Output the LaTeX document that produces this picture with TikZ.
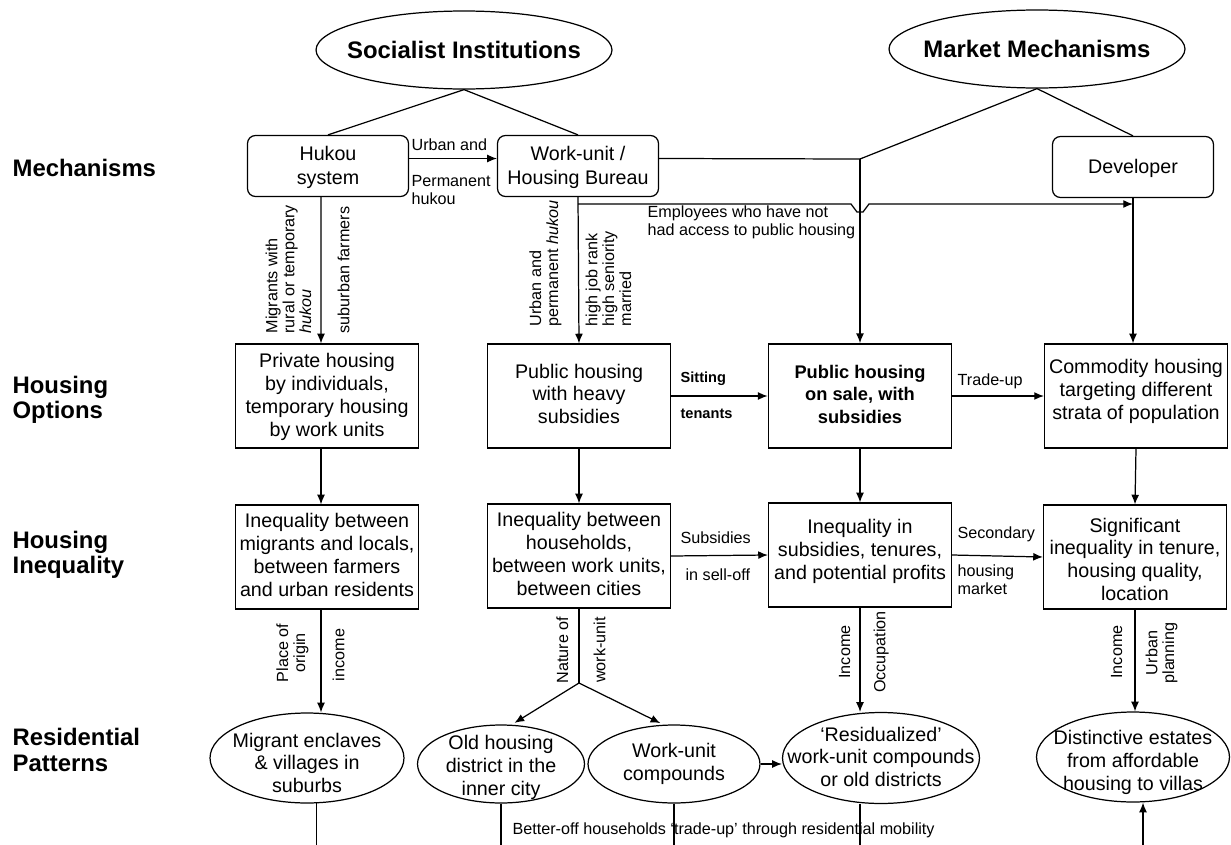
\documentclass[tikz,border=0pt]{standalone}
\usepackage{fontspec}
\setmainfont{Liberation Sans}
\usetikzlibrary{shapes.geometric}
\usetikzlibrary{arrows.meta}

% text set inside a shape of fixed size, optionally lowered
\newcommand{\inell}[2][0pt]{\smash{\raisebox{-\dimexpr .5ex+#1\relax}{\makebox[0pt]{\begin{tabular}{@{}c@{}}#2\end{tabular}}}}}

\begin{document}
\begin{tikzpicture}[x=0.02cm,y=-0.02cm,line width=0.7pt,
	arr/.style={-{Latex[length=5.5pt,width=4.5pt]}},
	mech/.style={draw,rounded corners=4.5pt,inner sep=0pt,minimum width=3.22cm,minimum height=1.22cm,font=\fontsize{11.2}{13.6}\selectfont},
	opt/.style={draw,inner sep=0pt,minimum width=3.66cm,minimum height=2.08cm,font=\fontsize{11.2}{13}\selectfont},
	patt/.style={draw,ellipse,inner sep=0pt,font=\fontsize{11.2}{13}\selectfont},
	inst/.style={draw,ellipse,inner sep=0pt,minimum width=5.92cm,minimum height=1.56cm,font=\fontsize{13.6}{15}\selectfont\bfseries},
	row/.style={anchor=west,align=left,inner sep=0pt,font=\fontsize{13.6}{14.5}\selectfont\bfseries},
	lab/.style={anchor=west,align=left,inner sep=0pt,font=\fontsize{9.2}{10.2}\selectfont},
	vlab/.style={rotate=90,inner sep=0pt,align=left,font=\fontsize{9.2}{9.6}\selectfont}]
	\useasboundingbox (0,0) rectangle (1231,845);

	\node[row] (rmech) at (12,168) {Mechanisms};
	\node[row] (ropt) at (12,400) {Housing\\Options};
	\node[row] (rineq) at (12,555) {Housing\\Inequality};
	\node[row] (rpatt) at (12,750) {Residential\\Patterns};

	\node[inst] (soc) at (464,50) {\inell[1.7pt]{Socialist Institutions}};
	\node[inst] (mkt) at (1037,49) {\inell[1.7pt]{Market Mechanisms}};

	\node[mech] (hukou) at (328,166) {\inell[0.8pt]{Hukou\\system}};
	\node[mech] (work) at (578,166) {\inell[0.8pt]{Work-unit /\\Housing Bureau}};
	\node[mech] (dev) at (1133,167) {\inell[0.8pt]{Developer}};

	\node[opt] (priv) at (327,396) {\inell[0.5pt]{Private housing\\by individuals,\\temporary housing\\by work units}};
	\node[opt] (pubheavy) at (579,396) {\inell{Public housing\\with heavy\\subsidies}};
	\node[opt,line width=1pt,font=\fontsize{10.4}{12.6}\selectfont\bfseries] (onsale) at (860,396) {\inell{Public housing\\on sale, with\\subsidies}};
	\node[opt] (comm) at (1136,396) {\inell[-2.5pt]{Commodity housing\\targeting different\\strata of population}};

	\node[opt] (ineqmig) at (327,557) {\inell{Inequality between\\migrants and locals,\\between farmers\\and urban residents}};
	\node[opt] (ineqhh) at (579,556) {\inell{Inequality between\\households,\\between work units,\\between cities}};
	\node[opt] (ineqsub) at (860,555) {\inell[-2pt]{Inequality in\\subsidies, tenures,\\and potential profits}};
	\node[opt] (sig) at (1135,557) {\inell[2.5pt]{Significant\\inequality in tenure,\\housing quality,\\location}};

	\node[patt,minimum width=3.88cm,minimum height=1.8cm] (enclave) at (307,758) {\inell[4pt]{Migrant enclaves\\\& villages in\\suburbs}};
	\node[patt,minimum width=3.34cm,minimum height=1.56cm] (oldh) at (501,764) {\inell[2pt]{Old housing\\district in the\\inner city}};
	\node[patt,minimum width=3.44cm,minimum height=1.56cm] (wuc) at (674,764) {\inell{Work-unit\\compounds}};
	\node[patt,minimum width=3.94cm,minimum height=1.82cm] (resid) at (881,758) {\inell[0.5pt]{`Residualized'\\work-unit compounds\\or old districts}};
	\node[patt,minimum width=3.86cm,minimum height=1.8cm] (dist) at (1133,757) {\inell[3pt]{Distinctive estates\\from affordable\\housing to villas}};

	\coordinate (junc) at (860,159);
	\coordinate (split) at (579,683);
	\coordinate (base) at (0,845);
	\coordinate (up) at (1143,845);

	% institutions to mechanisms
	\draw (soc.south) -- (hukou.north);
	\draw (soc.south) -- (work.north);
	\draw (mkt.south) -- (junc);
	\draw (mkt.south) -- (dev.north);

	\draw[arr] ([yshift=0.15cm]hukou.east) -- ([yshift=0.15cm]work.west);
	\node[lab] (urbanand) at (411,145) {Urban and};
	\node[lab] (permhuk) at (411,190) {Permanent\\hukou};

	\draw ([yshift=0.15cm]work.east) -- (junc);
	\draw[arr] (junc) -- (junc |- onsale.north);

	\draw[arr] (work.south |- 0,204) -- (851,204) -- (857,212) -- (863,212) -- (869,204) -- (dev.south |- 0,204);
	\node[lab] (employ) at (647,222) {Employees who have not\\had access to public housing};
	\draw[arr] (dev.south) -- (dev.south |- comm.north);

	% mechanisms to options
	\draw[arr] ([xshift=-0.14cm]hukou.south) -- ([xshift=-0.12cm]priv.north);
	\node[vlab,anchor=south west] (migl) at (312,334) {Migrants with\\rural or temporary\\\textit{hukou}};
	\node[vlab,anchor=north west] (farml) at (337,334) {suburban farmers};
	\draw[arr] (work.south) -- (pubheavy.north);
	\node[vlab,anchor=south west] (urbl) at (562,327) {Urban and\\permanent \textit{hukou}};
	\node[vlab,anchor=north west] (rankl) at (585,327) {high job rank\\high seniority\\married};

	\draw[arr] (pubheavy.east) -- (onsale.west);
	\node[lab,font=\fontsize{8.3}{10}\selectfont\bfseries] (sitl) at (680,379) {Sitting};
	\node[lab,font=\fontsize{8.3}{10}\selectfont\bfseries] (tenl) at (680,414) {tenants};
	\draw[arr] (onsale.east) -- (comm.west);
	\node[lab] (tradel) at (957,381) {Trade-up};

	% options to inequality
	\draw[arr] ([xshift=-0.12cm]priv.south) -- ([xshift=-0.12cm]ineqmig.north);
	\draw[arr] (pubheavy.south) -- (ineqhh.north);
	\draw[arr] (onsale.south) -- (ineqsub.north);
	\draw[arr] (comm.south) -- (sig.north);

	\draw[arr] (ineqhh.east) -- (ineqsub.west);
	\node[lab] (subl) at (680,538) {Subsidies};
	\node[lab] (selll) at (685,575) {in sell-off};
	\draw[arr] (ineqsub.east) -- (sig.west);
	\node[lab] (secl) at (957,534) {Secondary};
	\node[lab] (markl) at (957,580) {housing\\market};

	% inequality to patterns
	\draw[arr] ([xshift=-0.12cm]ineqmig.south) -- ([xshift=-0.12cm]ineqmig.south |- enclave.north);
	\node[vlab,anchor=south,align=center] (origl) at (309,653) {Place of\\origin};
	\node[vlab,anchor=north] (incl1) at (332,655) {income};

	\draw (ineqhh.south) -- (split);
	\draw[arr,shorten >=2pt] (split) -- (oldh.75);
	\draw[arr,shorten >=2pt] (split) -- (wuc.105);
	\node[vlab,anchor=south] (natl) at (569,650) {Nature of};
	\node[vlab,anchor=north] (wul) at (593,650) {work-unit};

	\draw[arr] (ineqsub.south) -- (ineqsub.south |- resid.north);
	\node[vlab,anchor=south] (incl2) at (851,652) {Income};
	\node[vlab,anchor=north] (occl) at (873,652) {Occupation};

	\draw[arr] (sig.south) -- (sig.south |- dist.north);
	\node[vlab,anchor=south] (incl3) at (1123,652) {Income};
	\node[vlab,anchor=north,align=center] (planl) at (1145,653) {Urban\\planning};

	\draw[arr] (wuc.east) -- (wuc.east -| resid.west);

	% below the patterns
	\draw (enclave.-78) -- (enclave.-78 |- base);
	\draw (oldh.south) -- (oldh.south |- base);
	\draw (wuc.south) -- (wuc.south |- base);
	\draw (resid.south -| ineqsub.south) -- (ineqsub.south |- base);
	\draw[arr] (up) -- (up |- dist.south);
	\node[lab] (betterl) at (512,830) {Better-off households `trade-up' through residential mobility};

\end{tikzpicture}
\end{document}
